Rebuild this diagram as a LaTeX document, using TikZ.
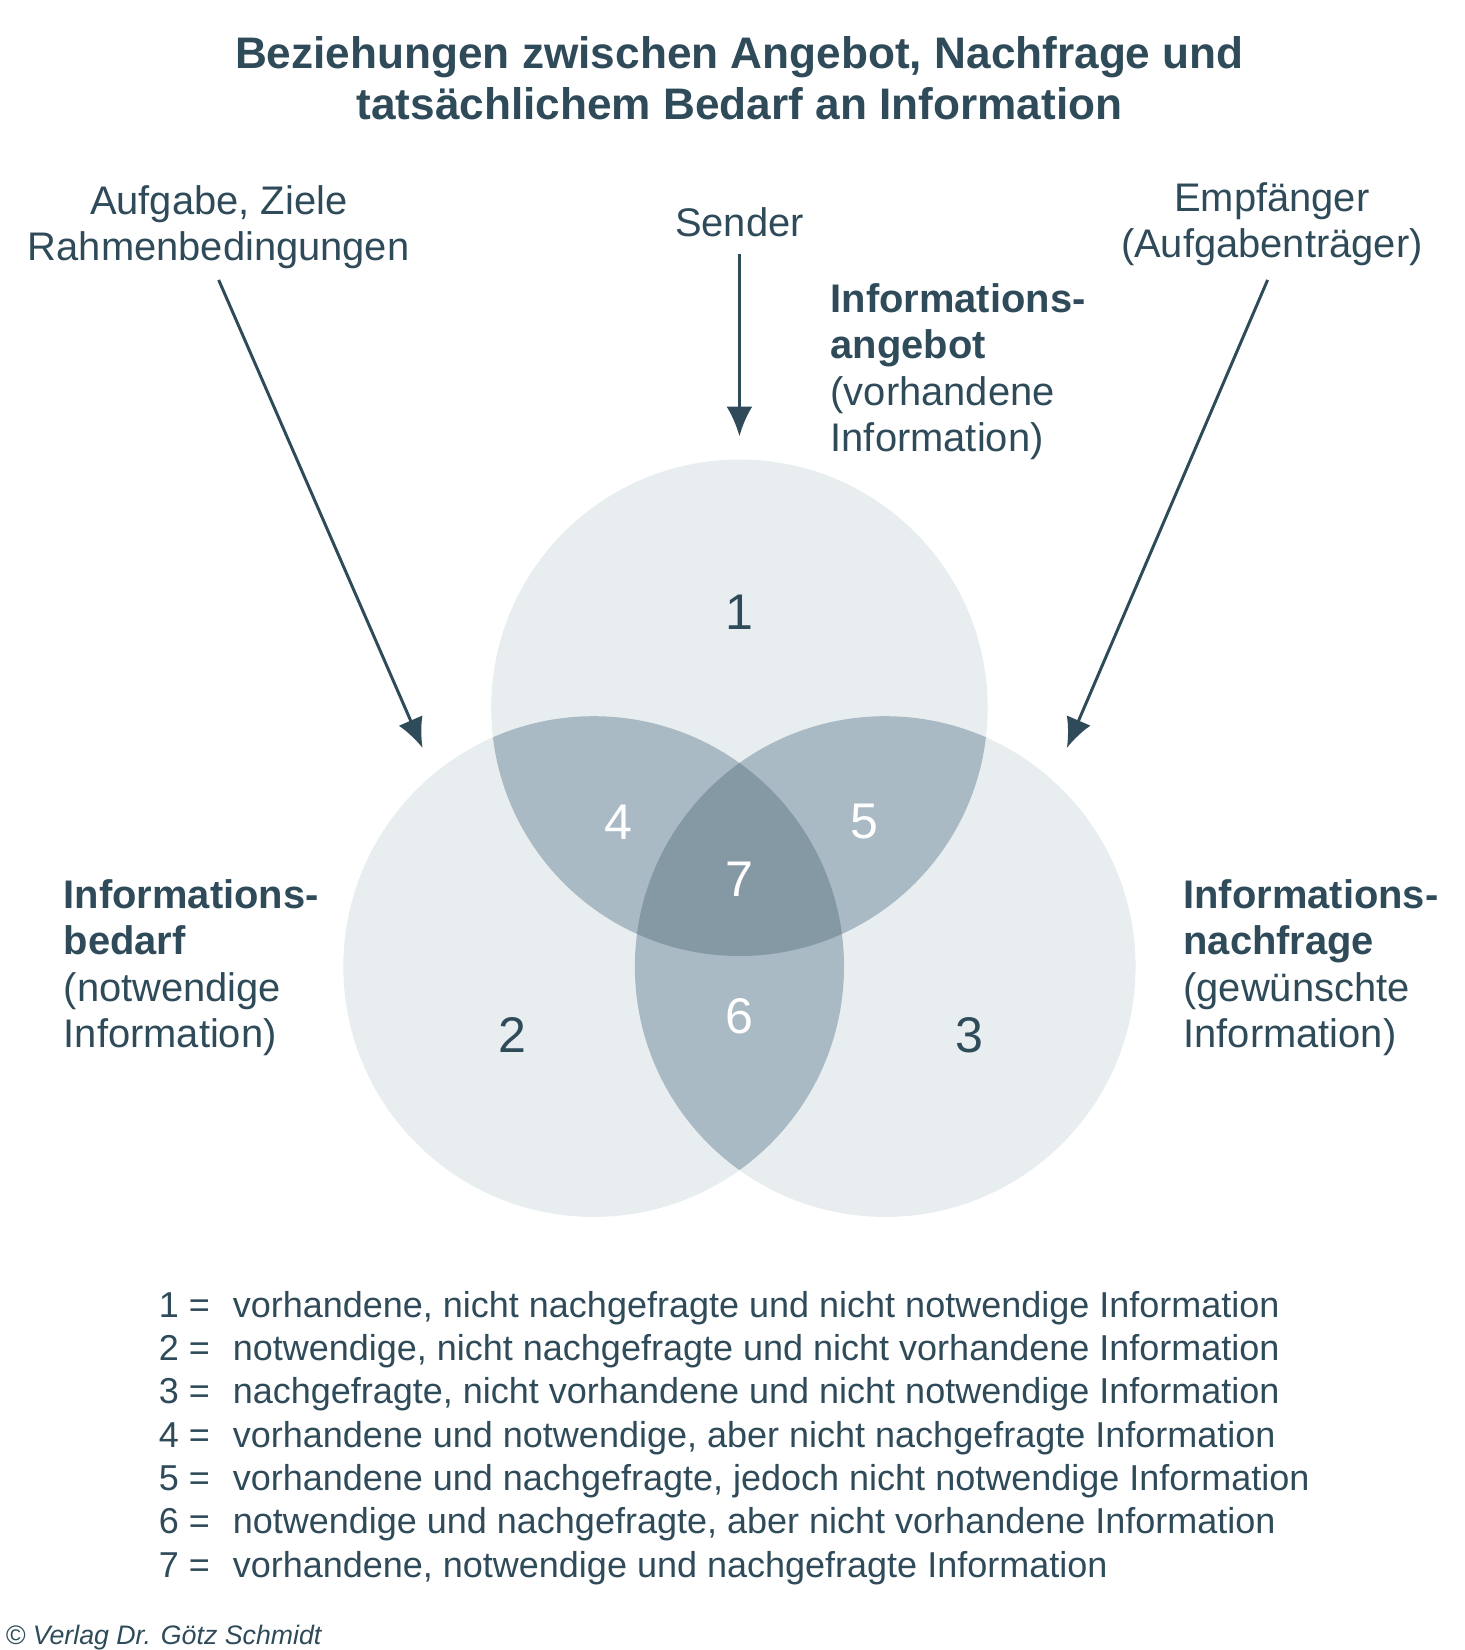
\documentclass[tikz,border=0pt]{standalone}
\usepackage{fontspec}
\setmainfont{Liberation Sans}
\usetikzlibrary{arrows.meta}
\definecolor{ink}{HTML}{2F4B5A}
\definecolor{c1}{HTML}{E8EDF0}
\definecolor{c2}{HTML}{A9BAC4}
\definecolor{c3}{HTML}{8599A4}
\tikzset{
 txt/.style={text=ink,font=\fontsize{19.4}{22}\selectfont,inner sep=0pt},
 lbl/.style={txt,anchor=west,align=left,font=\fontsize{21.5}{25}\selectfont},
 num/.style={text=ink,font=\fontsize{27}{30}\selectfont,inner sep=0pt},
 wnum/.style={text=white,font=\fontsize{27}{30}\selectfont,inner sep=0pt},
 arr/.style={draw=ink,line width=1.6pt,-{Latex[length=16pt,width=14pt]}}
}
\begin{document}
\begin{tikzpicture}[x=0.02cm,y=-0.02cm]
\useasboundingbox (0,0) rectangle (1386,1562);
\fill[c1] (700,670) circle (235);
\fill[c1] (562,915) circle (237);
\fill[c1] (838,915) circle (237);
\begin{scope}\clip (700,670) circle (235); \fill[c2] (562,915) circle (237); \fill[c2] (838,915) circle (237);\end{scope}
\begin{scope}\clip (562,915) circle (237); \fill[c2] (838,915) circle (237);
 \clip (838,915) circle (237); \fill[c3] (700,670) circle (235);\end{scope}
\node[txt,font=\bfseries\fontsize{23.8}{27}\selectfont,align=center] (title) at (700,74) {Beziehungen zwischen Angebot, Nachfrage und\\tatsächlichem Bedarf an Information};
\node[txt,align=center,font=\fontsize{21.5}{25}\selectfont] (aufg) at (207,215) {Aufgabe, Ziele\\Rahmenbedingungen};
\node[txt,font=\fontsize{21.5}{25}\selectfont] (sender) at (700,210) {Sender};
\node[txt,align=center,font=\fontsize{21.5}{25}\selectfont] (empf) at (1204,212) {Empfänger\\(Aufgabenträger)};
\coordinate (aL) at (400,708); \coordinate (aM) at (700,413); \coordinate (aR) at (1010,708);
\coordinate (sL) at (207,265); \coordinate (sM) at (700,240); \coordinate (sR) at (1200,265);
\draw[arr] (sL) -- (aL);
\draw[arr] (sM) -- (aM);
\draw[arr] (sR) -- (aR);
\node[lbl] (ang) at (786,352) {\textbf{Informations-}\\\textbf{angebot}\\(vorhandene\\Information)};
\node[lbl] (bed) at (60,916) {\textbf{Informations-}\\\textbf{bedarf}\\(notwendige\\Information)};
\node[lbl] (nach) at (1120,916) {\textbf{Informations-}\\\textbf{nachfrage}\\(gewünschte\\Information)};
\node[num] (n1) at (700,580) {1};
\node[num] (n2) at (485,980) {2};
\node[num] (n3) at (918,980) {3};
\node[wnum] (n4) at (585,778) {4};
\node[wnum] (n5) at (818,778) {5};
\node[wnum] (n7) at (700,832) {7};
\node[wnum] (n6) at (700,962) {6};
\foreach \i/\t [count=\k from 0] in {1/{vorhandene, nicht nachgefragte und nicht notwendige Information},
 2/{notwendige, nicht nachgefragte und nicht vorhandene Information},
 3/{nachgefragte, nicht vorhandene und nicht notwendige Information},
 4/{vorhandene und notwendige, aber nicht nachgefragte Information},
 5/{vorhandene und nachgefragte, jedoch nicht notwendige Information},
 6/{notwendige und nachgefragte, aber nicht vorhandene Information},
 7/{vorhandene, notwendige und nachgefragte Information}}{
 \node[txt,anchor=base west] (k\i) at (150,1247+41*\k) {\i\ =};
 \node[txt,anchor=base west] (l\i) at (220,1247+41*\k) {\t};
}
\node[txt,anchor=west,font=\itshape\fontsize{14.4}{18}\selectfont] (copy) at (5,1550) {© Verlag Dr. Götz Schmidt};
\end{tikzpicture}
\end{document}
